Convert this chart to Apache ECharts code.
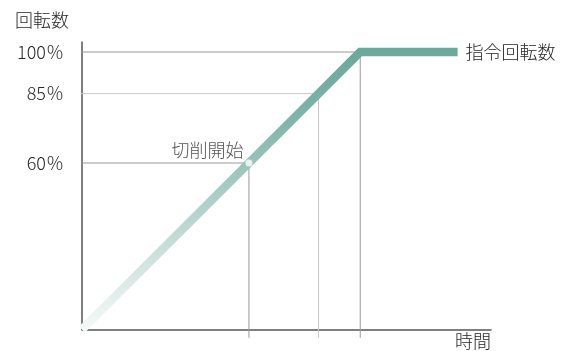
<!DOCTYPE html>
<html>
<head>
<meta charset="utf-8">
<script src="https://cdn.jsdelivr.net/npm/echarts@6/dist/echarts.min.js"></script>
<style>
  html, body { margin: 0; padding: 0; background: #fff; }
  #chart { width: 561px; height: 351px; }
</style>
</head>
<body>
<div id="chart"></div>
<script>
// 指令回転数 (time, speed %)
var timeValues = [0, 100, 135];
var speedValues = [0, 100, 100];
// 切削開始 point
var cutStart = [60, 60];
// reference levels and their y labels
var refLevels = [60, 85, 100];
var refColors = ["#999", "#c8c8c8", "#999"];
var yTickLabels = { 60: "60％", 85: "85％", 100: "100％" };

var font = "Noto Sans CJK JP";
var textColor = "#262626";
var chart = echarts.init(document.getElementById("chart"));

var mainData = timeValues.map(function (t, i) {
  return [t, speedValues[i]];
});

var series = [];

refLevels.forEach(function (lv, i) {
  series.push({
    type: "line",
    silent: true,
    clip: false,
    symbol: "none",
    z: 1,
    lineStyle: { color: refColors[i], width: 1 },
    data: [[-5, lv], [lv, lv], [lv, -3]],
  });
});

series.push({
  type: "line",
  name: "指令回転数",
  z: 5,
  symbol: "none",
  lineStyle: {
    width: 8.5,
    join: "miter",
    color: {
      type: "linear",
      x: 0, y: 0, x2: 0, y2: 1,
      colorStops: [
        { offset: 0, color: "#6aa89a" },
        { offset: 0.25, color: "#80b5a9" },
        { offset: 1, color: "#f8fbfa" },
      ],
    },
  },
  endLabel: {
    show: true,
    formatter: "指令回転数",
    distance: 8,
    color: textColor,
    fontSize: 18,
    fontWeight: 300,
    fontFamily: font,
  },
  data: mainData,
});

series.push({
  type: "scatter",
  z: 6,
  silent: true,
  symbolSize: 7,
  itemStyle: { color: "#fff" },
  label: {
    show: true,
    position: "left",
    distance: 2,
    offset: [0, -13],
    formatter: "切削開始",
    color: textColor,
    fontSize: 18,
    fontWeight: 300,
    fontFamily: font,
  },
  data: [cutStart],
});

var option = {
  animation: false,
  grid: { left: 82, right: 70, top: 42, bottom: 21.5 },
  xAxis: {
    type: "value",
    min: 0,
    max: 147,
    name: "時間",
    nameLocation: "end",
    nameGap: 0,
    nameTextStyle: {
      align: "right",
      verticalAlign: "top",
      padding: [3, 0, 0, 0],
      color: textColor,
      fontSize: 18,
      fontWeight: 300,
      fontFamily: font,
    },
    axisLine: { lineStyle: { color: "#555", width: 1.5 } },
    axisTick: { show: false },
    axisLabel: { show: false },
    splitLine: { show: false },
  },
  yAxis: {
    type: "value",
    min: 0,
    max: 103.6,
    interval: 5,
    name: "回転数",
    nameLocation: "end",
    nameGap: 22,
    nameTextStyle: {
      align: "right",
      verticalAlign: "middle",
      padding: [0, 13, 0, 0],
      color: textColor,
      fontSize: 18,
      fontWeight: 300,
      fontFamily: font,
    },
    axisLine: { show: true, lineStyle: { color: "#555", width: 1.5 } },
    axisTick: { show: false },
    axisLabel: {
      margin: 18,
      color: textColor,
      fontSize: 18,
      fontWeight: 300,
      fontFamily: font,
      formatter: function (v) {
        return yTickLabels[v] || "";
      },
    },
    splitLine: { show: false },
  },
  series: series,
};

chart.setOption(option);
</script>
</body>
</html>
